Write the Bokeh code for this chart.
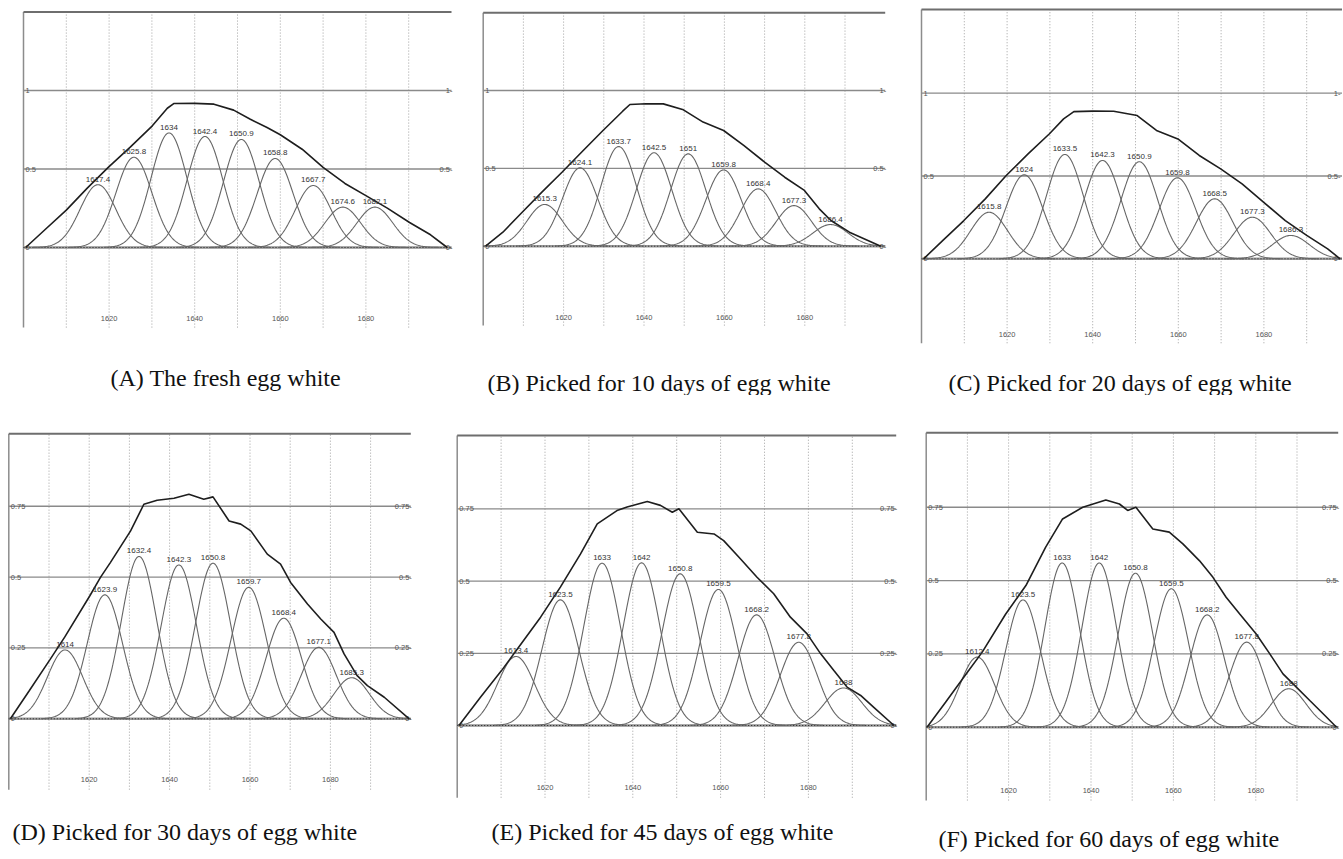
import numpy as np
from bokeh.plotting import figure
from bokeh.models import Range1d, Label
from bokeh.layouts import column, row
from bokeh.core.properties import value
from bokeh.embed import file_html
from bokeh.resources import INLINE

# ---------------- data ----------------
X_MIN, X_MAX = 1600, 1700
x_tick_values = [1620, 1640, 1660, 1680]
x_tick_labels = ["1620", "1640", "1660", "1680"]
x_grid_values = [1610, 1620, 1630, 1640, 1650, 1660, 1670, 1680, 1690]

top_row_levels = [0.0, 0.5, 1.0]
top_row_level_labels = ["0", "0.5", "1"]
bottom_row_levels = [0.0, 0.25, 0.5, 0.75]
bottom_row_level_labels = ["0", "0.25", "0.5", "0.75"]

captions = [
    "(A) The fresh egg white",
    "(B) Picked for 10 days of egg white",
    "(C) Picked for 20 days of egg white",
    "(D) Picked for 30 days of egg white",
    "(E) Picked for 45 days of egg white",
    "(F) Picked for 60 days of egg white",
]

# (A) fresh
a_labels = ["1617.4", "1625.8", "1634", "1642.4", "1650.9", "1658.8", "1667.7", "1674.6", "1682.1"]
a_centers = [1617.4, 1625.8, 1634.0, 1642.4, 1650.9, 1658.8, 1667.7, 1674.6, 1682.1]
a_heights = [0.40, 0.575, 0.73, 0.707, 0.688, 0.567, 0.395, 0.257, 0.257]
a_sigma = 4.2
a_env_x = [1600.5, 1605.0, 1610.0, 1614.9, 1619.8, 1625.0, 1630.1, 1633.6, 1635.1, 1640.0, 1644.5,
           1649.1, 1653.0, 1656.9, 1660.0, 1665.1, 1670.0, 1675.1, 1680.1, 1685.0, 1690.2, 1695.1, 1699.0]
a_env_y = [0.0, 0.113, 0.238, 0.378, 0.51, 0.641, 0.775, 0.887, 0.917, 0.918, 0.913,
           0.875, 0.817, 0.764, 0.718, 0.626, 0.51, 0.408, 0.329, 0.251, 0.159, 0.081, 0.0]

# (B) 10 days
b_labels = ["1615.3", "1624.1", "1633.7", "1642.5", "1651", "1659.8", "1668.4", "1677.3", "1686.4"]
b_centers = [1615.3, 1624.1, 1633.7, 1642.5, 1651.0, 1659.8, 1668.4, 1677.3, 1686.4]
b_heights = [0.268, 0.503, 0.640, 0.600, 0.593, 0.490, 0.368, 0.261, 0.139]
b_sigma = 4.4
b_env_x = [1600.6, 1604.9, 1609.7, 1614.6, 1619.6, 1624.7, 1629.8, 1634.7, 1636.5, 1640.5, 1644.8,
           1649.8, 1654.7, 1659.8, 1664.8, 1670.0, 1675.0, 1679.9, 1683.6, 1686.5, 1691.1, 1698.9]
b_env_y = [0.0, 0.09, 0.218, 0.347, 0.475, 0.61, 0.743, 0.867, 0.91, 0.915, 0.914,
           0.876, 0.797, 0.743, 0.647, 0.54, 0.443, 0.358, 0.24, 0.165, 0.09, 0.0]

# (C) 20 days
c_labels = ["1615.8", "1624", "1633.5", "1642.3", "1650.9", "1659.8", "1668.5", "1677.3", "1686.3"]
c_centers = [1615.8, 1624.0, 1633.5, 1642.3, 1650.9, 1659.8, 1668.5, 1677.3, 1686.3]
c_heights = [0.281, 0.507, 0.630, 0.594, 0.586, 0.489, 0.362, 0.251, 0.141]
c_sigma = 4.3
c_env_x = [1600.5, 1605.0, 1609.9, 1614.9, 1619.8, 1624.9, 1629.9, 1633.2, 1635.6, 1640.0, 1644.9,
           1650.4, 1654.9, 1659.9, 1664.9, 1669.9, 1674.9, 1679.9, 1685.0, 1690.0, 1694.9, 1697.8]
c_env_y = [0.0, 0.111, 0.231, 0.362, 0.503, 0.634, 0.755, 0.845, 0.889, 0.892, 0.891,
           0.865, 0.775, 0.724, 0.624, 0.543, 0.453, 0.342, 0.231, 0.141, 0.06, 0.0]

# (D) 30 days
d_labels = ["1614", "1623.9", "1632.4", "1642.3", "1650.8", "1659.7", "1668.4", "1677.1", "1685.3"]
d_centers = [1614.0, 1623.9, 1632.4, 1642.3, 1650.8, 1659.7, 1668.4, 1677.1, 1685.3]
d_heights = [0.243, 0.4375, 0.573, 0.543, 0.549, 0.464, 0.355, 0.252, 0.145]
d_sigma = 4.4
d_env_x = [1600.4, 1605.0, 1610.2, 1613.9, 1620.2, 1622.8, 1625.3, 1630.3, 1633.6, 1636.9, 1641.1,
           1644.8, 1648.5, 1650.8, 1654.8, 1657.7, 1660.2, 1664.3, 1667.6, 1670.1, 1674.3, 1677.6,
           1680.9, 1683.4, 1686.6, 1689.2, 1693.4, 1699.6]
d_env_y = [0.0, 0.097, 0.208, 0.288, 0.435, 0.499, 0.552, 0.663, 0.757, 0.771, 0.778,
           0.792, 0.775, 0.783, 0.698, 0.687, 0.663, 0.581, 0.546, 0.481, 0.405, 0.352,
           0.305, 0.229, 0.153, 0.117, 0.076, 0.0]

# (E) 45 days
e_labels = ["1613.4", "1623.5", "1633", "1642", "1650.8", "1659.5", "1668.2", "1677.8", "1688"]
e_centers = [1613.4, 1623.5, 1633.0, 1642.0, 1650.8, 1659.5, 1668.2, 1677.8, 1688.0]
e_heights = [0.239, 0.435, 0.562, 0.563, 0.525, 0.471, 0.383, 0.288, 0.130]
e_sigma = 4.2
e_env_x = [1600.4, 1605.3, 1610.1, 1613.7, 1619.0, 1623.5, 1628.1, 1631.9, 1636.4, 1638.7, 1643.3,
           1646.3, 1649.0, 1650.5, 1654.7, 1658.5, 1660.7, 1664.5, 1668.3, 1672.1, 1675.9, 1679.7,
           1682.8, 1685.8, 1688.8, 1691.9, 1694.9, 1699.5]
e_env_y = [0.0, 0.098, 0.190, 0.265, 0.375, 0.479, 0.594, 0.698, 0.744, 0.756, 0.775,
           0.762, 0.738, 0.750, 0.669, 0.663, 0.640, 0.577, 0.513, 0.456, 0.375, 0.317,
           0.248, 0.190, 0.133, 0.104, 0.063, 0.0]

# (F) 60 days
f_labels = ["1612.4", "1623.5", "1633", "1642", "1650.8", "1659.5", "1668.2", "1677.8", "1688"]
f_centers = [1612.4, 1623.5, 1633.0, 1642.0, 1650.8, 1659.5, 1668.2, 1677.8, 1688.0]
f_heights = [0.239, 0.434, 0.560, 0.560, 0.525, 0.472, 0.383, 0.290, 0.131]
f_sigma = 4.2
f_env_x = [1600.2, 1604.7, 1610.0, 1613.6, 1619.3, 1624.2, 1629.0, 1633.1, 1638.0, 1643.6, 1646.9,
           1648.9, 1650.9, 1655.0, 1659.0, 1662.3, 1666.3, 1669.6, 1672.8, 1676.1, 1680.1, 1683.4,
           1686.6, 1689.9, 1693.1, 1696.4, 1699.6]
f_env_y = [0.0, 0.085, 0.1875, 0.256, 0.386, 0.483, 0.614, 0.710, 0.750, 0.775, 0.761,
           0.739, 0.750, 0.676, 0.665, 0.625, 0.568, 0.511, 0.443, 0.386, 0.318, 0.250,
           0.182, 0.136, 0.091, 0.045, 0.0]

# ---------------- layout (page pixels) ----------------
# left, top, width, height; px of x=1600, px per unit x; px of y=0, px per unit y;
# caption left edge and vertical centre
layouts = [
    dict(left=0, top=0, w=470, h=395, x0=23.0, kx=4.28, y0=247.0, ky=157.0, cap=(110, 377), ytop=1.5),
    dict(left=470, top=0, w=442, h=395, x0=482.7, kx=4.02, y0=245.7, ky=155.7, cap=(487, 382), ytop=1.5),
    dict(left=912, top=0, w=430, h=395, x0=921.0, kx=4.28, y0=258.3, ky=165.6, cap=(948, 382), ytop=1.505),
    dict(left=0, top=395, w=440, h=463, x0=8.3, kx=4.02, y0=718.3, ky=283.4, cap=(12, 831), ytop=1.006),
    dict(left=440, top=395, w=475, h=463, x0=456.7, kx=4.39, y0=725.0, ky=288.9, cap=(491, 831), ytop=1.004),
    dict(left=915, top=395, w=427, h=463, x0=925.7, kx=4.12, y0=726.7, ky=293.3, cap=(938, 838), ytop=1.004),
]

panels = [
    (a_labels, a_centers, a_heights, a_sigma, a_env_x, a_env_y),
    (b_labels, b_centers, b_heights, b_sigma, b_env_x, b_env_y),
    (c_labels, c_centers, c_heights, c_sigma, c_env_x, c_env_y),
    (d_labels, d_centers, d_heights, d_sigma, d_env_x, d_env_y),
    (e_labels, e_centers, e_heights, e_sigma, e_env_x, e_env_y),
    (f_labels, f_centers, f_heights, f_sigma, f_env_x, f_env_y),
]

TINY = value("Liberation Sans")


def build(i):
    lay = layouts[i]
    labels, centers, heights, sigma, env_x, env_y = panels[i]
    top_row = i < 3

    def px_to_x(px):
        return X_MIN + (px - lay["x0"]) / lay["kx"]

    def px_to_y(py):
        return (lay["y0"] - py) / lay["ky"]

    xr = Range1d(px_to_x(lay["left"]), px_to_x(lay["left"] + lay["w"]))
    yr = Range1d(px_to_y(lay["top"] + lay["h"]), px_to_y(lay["top"]))
    p = figure(width=lay["w"], height=lay["h"], x_range=xr, y_range=yr,
               x_axis_type=None, y_axis_type=None, toolbar_location=None,
               output_backend="svg", min_border=0, min_border_left=0,
               min_border_right=0, min_border_top=0, min_border_bottom=0)
    p.outline_line_color = None
    p.background_fill_color = "white"
    p.border_fill_color = "white"

    levels = top_row_levels if top_row else bottom_row_levels
    level_labels = top_row_level_labels if top_row else bottom_row_level_labels
    y_top = lay["ytop"]
    y_bottom = -0.51 if top_row else -0.25
    y_xlab = -0.455 if top_row else -0.215
    right_end = min(X_MAX, xr.end - 3.0 / lay["kx"])

    # vertical dotted grid
    p.segment(x0=x_grid_values, y0=[y_bottom] * len(x_grid_values),
              x1=x_grid_values, y1=[y_top] * len(x_grid_values),
              line_color="#a0a0a0", line_width=1, line_dash="1 2")
    # left frame line
    p.segment(x0=[X_MIN], y0=[y_bottom], x1=[X_MIN], y1=[y_top],
              line_color="#8c8c8c", line_width=1.5)
    # top frame line
    p.segment(x0=[X_MIN], y0=[y_top], x1=[X_MAX], y1=[y_top],
              line_color="#6e6e6e", line_width=2)
    # horizontal level lines
    p.segment(x0=[X_MIN] * len(levels), y0=levels, x1=[X_MAX] * len(levels), y1=levels,
              line_color="#8a8a8a", line_width=1.3)
    # baseline: dotted zero line
    p.line([X_MIN, X_MAX], [levels[0], levels[0]], line_color="#9a9a9a", line_width=2.5)
    p.line([X_MIN, X_MAX], [levels[0], levels[0]], line_color="#222222", line_width=1,
           line_dash="1 2")

    # level labels, left and right
    p.text(x=[X_MIN] * len(levels), y=levels, text=level_labels,
           text_font=TINY, text_font_size="7.5px", text_color="#555555",
           text_align="left", text_baseline="middle", x_offset=2)
    p.text(x=[right_end] * len(levels), y=levels, text=[t + "-" for t in level_labels],
           text_font=TINY, text_font_size="7.5px", text_color="#555555",
           text_align="right", text_baseline="middle", x_offset=1)

    # x tick labels
    p.text(x=x_tick_values, y=[y_xlab] * len(x_tick_values), text=x_tick_labels,
           text_font=TINY, text_font_size="7.5px", text_color="#555555",
           text_align="center", text_baseline="middle")

    # component peaks
    xs_list, ys_list = [], []
    for c, h in zip(centers, heights):
        xs = np.linspace(max(X_MIN, c - 3.6 * sigma), min(X_MAX, c + 3.6 * sigma), 140)
        ys = h * np.exp(-0.5 * ((xs - c) / sigma) ** 2)
        xs_list.append(xs)
        ys_list.append(ys)
    p.multi_line(xs_list, ys_list, line_color="#666666", line_width=1.1)

    # envelope
    p.line(env_x, env_y, line_color="#1e1e1e", line_width=1.6)

    # peak labels
    p.text(x=centers, y=heights, text=labels, text_font=TINY, text_font_size="8px",
           text_color="#333333", text_align="center", text_baseline="bottom", y_offset=-3)

    # caption
    cx, cy = lay["cap"]
    p.add_layout(Label(x=px_to_x(cx), y=px_to_y(cy), text=captions[i],
                       text_font="Liberation Serif", text_font_size="24px",
                       text_color="#111111", text_align="left", text_baseline="middle"))
    return p


figs = [build(i) for i in range(6)]
layout = column(row(figs[0], figs[1], figs[2], spacing=0),
                row(figs[3], figs[4], figs[5], spacing=0), spacing=0)

open("out.html", "w").write(file_html(layout, INLINE))
